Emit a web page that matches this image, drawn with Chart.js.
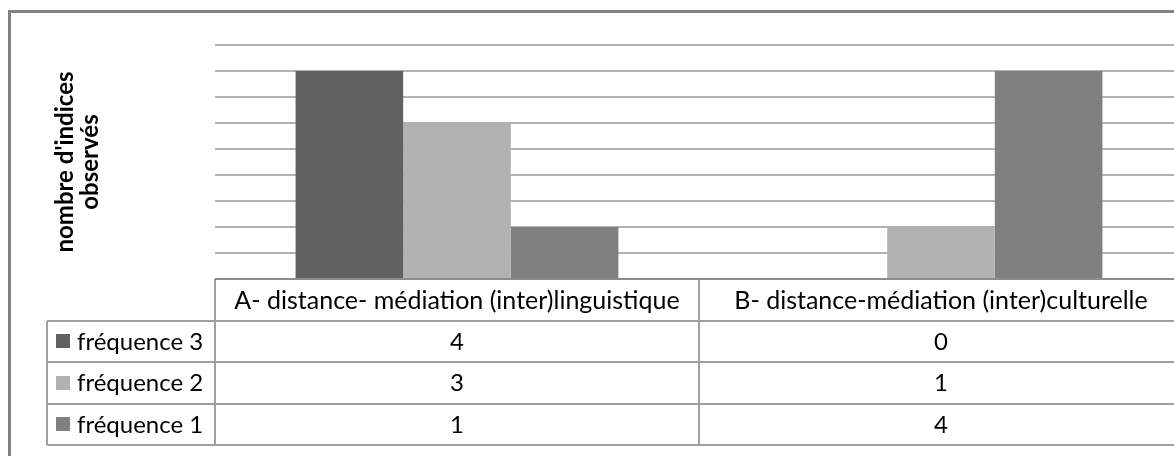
<!DOCTYPE html>
<html>
<head>
<meta charset="utf-8">
<script src="https://cdn.jsdelivr.net/npm/chart.js@4/dist/chart.umd.min.js"></script>
<style>
  html, body { margin: 0; padding: 0; background: #fff; overflow: hidden; }
  #wrap { position: relative; width: 1200px; height: 456px; }
</style>
</head>
<body>
<div id="wrap"><canvas id="c" width="1200" height="456"></canvas></div>
<script>
// Categories and the three frequency series (counts of observed indices)
const categories = [
  'A- distance- médiation (inter)linguistique',
  'B- distance-médiation (inter)culturelle'
];
const seriesNames = ['fréquence 3', 'fréquence 2', 'fréquence 1'];
const frequence3 = [4, 0];
const frequence2 = [3, 1];
const frequence1 = [1, 4];
const seriesColors = ['#616161', '#b2b2b2', '#808080'];
const yTitle = ["nombre d'indices", 'observés'];

const FONT = 'Lato, "Open Sans", sans-serif';

// Outer frame of the chart object
const framePlugin = {
  id: 'frame',
  beforeDraw(chart) {
    const ctx = chart.ctx;
    ctx.save();
    ctx.fillStyle = '#fff';
    ctx.fillRect(0, 0, chart.width, chart.height);
    ctx.fillStyle = '#828282';
    ctx.fillRect(8, 10, chart.width - 8, 3);
    ctx.fillRect(8, 10, 3, chart.height - 10);
    ctx.restore();
  }
};

// Data table under the plot: category header row, then one row per series
const dataTablePlugin = {
  id: 'dataTable',
  afterDraw(chart) {
    const ctx = chart.ctx;
    const area = chart.chartArea;
    const xs = chart.scales.x;
    const n = categories.length;
    const half = (xs.getPixelForValue(1) - xs.getPixelForValue(0)) / 2;
    const colEdges = [];
    for (let i = 0; i < n; i++) colEdges.push(xs.getPixelForValue(i) - half);
    colEdges.push(xs.getPixelForValue(n - 1) + half);
    const legendLeft = 47;
    const top = area.bottom;
    const rowH = 41.5;
    const rows = chart.data.datasets.length;
    const bottom = top + rowH * (rows + 1);

    ctx.save();
    ctx.strokeStyle = '#a0a0a0';
    ctx.lineWidth = 2;
    ctx.beginPath();
    // horizontal rules
    for (let r = 1; r <= rows + 1; r++) {
      const y = Math.round(top + rowH * r);
      ctx.moveTo(legendLeft, y);
      ctx.lineTo(colEdges[n], y);
    }
    // vertical rules
    ctx.moveTo(legendLeft, Math.round(top + rowH));
    ctx.lineTo(legendLeft, Math.round(bottom));
    for (let i = 0; i <= n; i++) {
      ctx.moveTo(Math.round(colEdges[i]), top);
      ctx.lineTo(Math.round(colEdges[i]), Math.round(bottom));
    }
    ctx.stroke();
    // axis line along the top of the table
    ctx.strokeStyle = '#8c8c8c';
    ctx.beginPath();
    ctx.moveTo(colEdges[0], top);
    ctx.lineTo(colEdges[n], top);
    ctx.stroke();

    ctx.fillStyle = '#000';
    ctx.textBaseline = 'middle';
    ctx.font = '25px ' + FONT;
    ctx.textAlign = 'center';
    categories.forEach((c, i) => {
      ctx.fillText(c, (colEdges[i] + colEdges[i + 1]) / 2, top + rowH / 2 + 1);
    });
    ctx.font = '24px ' + FONT;
    chart.data.datasets.forEach((ds, r) => {
      const cy = top + rowH * (r + 1.5) + 1;
      ctx.textAlign = 'center';
      ctx.fillStyle = '#000';
      ds.data.forEach((v, i) => {
        ctx.fillText(String(v), (colEdges[i] + colEdges[i + 1]) / 2, cy);
      });
      // legend key
      ctx.fillStyle = ds.backgroundColor;
      ctx.fillRect(56, Math.round(cy - 8), 14, 14);
      ctx.fillStyle = '#000';
      ctx.textAlign = 'left';
      ctx.fillText(ds.label, 77, cy);
    });
    ctx.restore();
  }
};

new Chart(document.getElementById('c'), {
  type: 'bar',
  data: {
    labels: categories,
    datasets: [
      { label: seriesNames[0], data: frequence3, backgroundColor: seriesColors[0] },
      { label: seriesNames[1], data: frequence2, backgroundColor: seriesColors[1] },
      { label: seriesNames[2], data: frequence1, backgroundColor: seriesColors[2] }
    ]
  },
  options: {
    responsive: false,
    animation: false,
    events: [],
    layout: { padding: { top: 45, right: 17, bottom: 177, left: 0 } },
    datasets: { bar: { categoryPercentage: 0.667, barPercentage: 1 } },
    plugins: { legend: { display: false }, tooltip: { enabled: false } },
    scales: {
      x: { display: false },
      y: {
        min: 0,
        max: 4.5,
        ticks: { display: false, stepSize: 0.5 },
        grid: { color: '#b3b3b3', lineWidth: 2, drawTicks: false },
        border: { display: false },
        title: {
          display: true,
          text: yTitle,
          color: '#000',
          font: { family: FONT, size: 24, weight: 'bold', lineHeight: '25px' },
          padding: { top: 53, bottom: 0 }
        },
        afterFit(scale) { scale.width = 215; }
      }
    }
  },
  plugins: [framePlugin, dataTablePlugin]
});
</script>
</body>
</html>
